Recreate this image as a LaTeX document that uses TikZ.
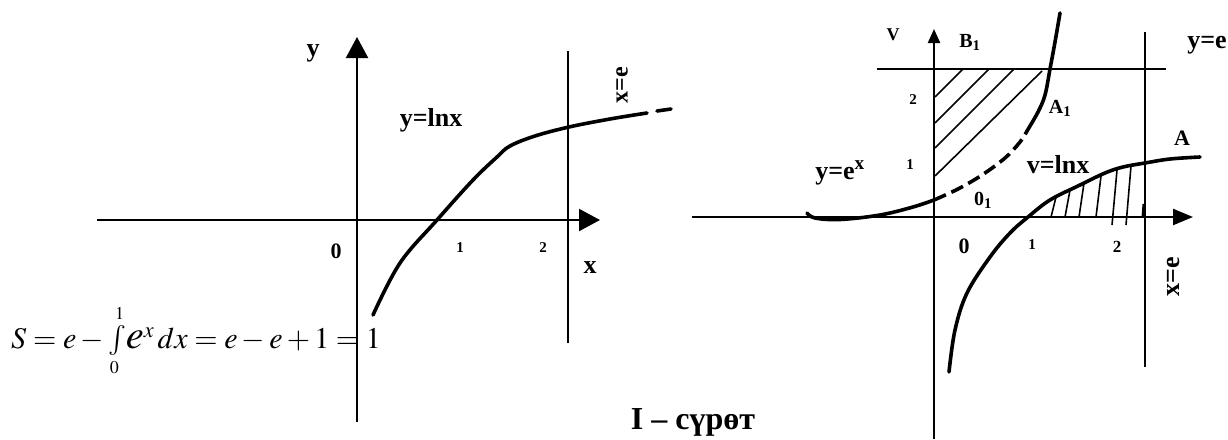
\documentclass[tikz,border=0pt]{standalone}
\usepackage{mathptmx}
\usepackage{fontspec}
\setmainfont{Liberation Serif}
\usetikzlibrary{arrows.meta}
\begin{document}
\begin{tikzpicture}[x=1pt,y=-1pt,
  lab/.style={inner sep=0pt,font=\fontsize{26}{26}\selectfont\bfseries},
  labs/.style={inner sep=0pt,font=\fontsize{20}{20}\selectfont\bfseries},
  tick/.style={inner sep=0pt,font=\fontsize{15}{15}\selectfont\bfseries},
  zero/.style={inner sep=0pt,font=\fontsize{22}{22}\selectfont\bfseries},
  axis/.style={line width=2.2pt},
  bigarrow/.style={-{Triangle[length=21pt,width=22pt]}},
  midarrow/.style={-{Triangle[length=20pt,width=16pt]}},
  smallarrow/.style={-{Triangle[length=14pt,width=12pt]}},
  vline/.style={line width=2pt},
  curve/.style={line width=3.6pt,line cap=round},
  dashcurve/.style={line width=3.6pt,dash pattern=on 13pt off 6pt},
  hatch/.style={line width=1.6pt}]
\fill[white] (0,0) rectangle (1228,439);
\useasboundingbox (0,0) rectangle (1228,439);

% ---------- left plot ----------
\draw[axis,bigarrow] (97,220) -- (600,220);
\draw[axis,bigarrow] (357,422) -- (357,37);
\draw[vline] (568,51) -- (568,343);
\draw[curve] plot[smooth,tension=0.6] coordinates {(373,315) (400,263) (437,220) (473,180) (497,157) (510,146) (535,136) (569,127) (610,119) (647,113)};
\draw[curve] (657,111) -- (671,109);

\node[lab] (ly) at (313,53) {y};
\node[lab] (lfun) at (431,120) {y=lnx};
\node[inner sep=0pt,font=\fontsize{24}{24}\selectfont\bfseries,rotate=90] (lxe) at (622,85) {x=e};
\node[zero] (l0) at (336,251) {0};
\node[tick] (l1) at (460,248) {1};
\node[tick] (l2) at (543,248) {2};
\node[lab] (lx) at (590,268) {x};
\node[anchor=base west,inner sep=0pt,font=\fontsize{30}{30}\selectfont] (formula) at (11,348)
  {$S = e - \int\limits_{\scriptscriptstyle 0}^{\scriptscriptstyle 1}\!\scalebox{1.35}{$e$}^{x}\,dx = e - e + 1 = 1$};

% ---------- right plot ----------
% hatching
\draw[hatch] (935,97) -- (963,69);
\draw[hatch] (935,123) -- (989,69);
\draw[hatch] (935,148) -- (1014,69);
\draw[hatch] (935,176) -- (1042,71);
\draw[hatch] (1051,217) -- (1056,197);
\draw[hatch] (1065,217) -- (1070,190);
\draw[hatch] (1079,217) -- (1084,183);
\draw[hatch] (1096,217) -- (1101,176);
\draw[hatch] (1112,225) -- (1117,170);
\draw[hatch] (1126,225) -- (1131,166);
\draw[line width=3pt] (1143,217) -- (1144,204);

\draw[axis,midarrow] (692,217) -- (1193,217);
\draw[axis,smallarrow] (934,439) -- (934,29);
\draw[vline] (877,69) -- (1166,69);
\draw[vline] (1145,32) -- (1145,367);

% y = e^x
\draw[curve] plot[smooth,tension=0.6] coordinates {(807,213) (815,218) (840,219.5) (880,215) (913,207) (934,200)};
\draw[dashcurve] plot[smooth,tension=0.6] coordinates {(934,200) (958,189) (982,175) (1005,158) (1020,142) (1027,131)};
\draw[curve] plot[smooth,tension=0.6] coordinates {(1027,131) (1038,112) (1045,95) (1050,69) (1055,42) (1060,13)};

% y = ln x
\draw[curve] plot[smooth,tension=0.6] coordinates {(949,372) (955,330) (967,293) (990,257) (1010,233) (1028,217) (1050,200) (1080,185) (1105,173) (1123,167) (1145,163) (1170,159) (1200,157)};

\node[inner sep=0pt,font=\fontsize{18}{18}\selectfont\bfseries] (rv) at (893,35) {V};
\node[labs] (rb1) at (970,42) {B\textsubscript{1}};
\node[lab] (rye) at (1207,45) {y=e};
\node[tick] (r2y) at (913,100) {2};
\node[tick] (r1y) at (910,165) {1};
\node[labs] (ra1) at (1060,108) {A\textsubscript{1}};
\node[lab] (rexp) at (840,173) {y=e\textsuperscript{x}};
\node[lab] (rln) at (1058,165) {v=lnx};
\node[inner sep=0pt,font=\fontsize{22}{22}\selectfont\bfseries] (ra) at (1182,138) {A};
\node[labs] (ro1) at (983,200) {0\textsubscript{1}};
\node[zero] (r0) at (964,246) {0};
\node[tick] (r1) at (1032,245) {1};
\node[inner sep=0pt,font=\fontsize{17}{17}\selectfont\bfseries] (r2) at (1117,247) {2};
\node[lab,rotate=90] (rxe) at (1173,277) {x=e};

\node[inner sep=0pt,font=\fontsize{32}{32}\selectfont\bfseries] (caption) at (693,422) {I – сүрөт};
\end{tikzpicture}
\end{document}
